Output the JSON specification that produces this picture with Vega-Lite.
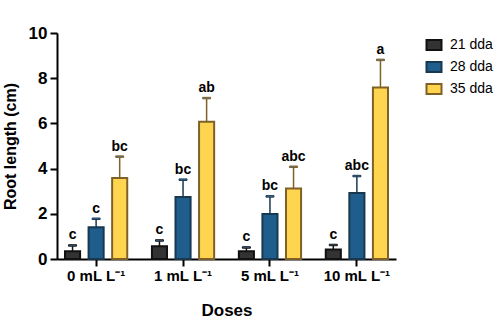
{
  "$schema": "https://vega.github.io/schema/vega-lite/v6.json",
  "width": 339,
  "height": 226,
  "autosize": {"type": "none"},
  "padding": {"left": 57, "top": 33, "right": 107, "bottom": 60},
  "background": "white",
  "config": {
    "view": {"stroke": null},
    "font": "Liberation Sans",
    "legend": {"rowPadding": 4, "symbolSize": 100, "symbolOpacity": 1}
  },
  "data": {
    "values": [
      {"dose": "0 mL L⁻¹", "series": "21 dda", "mean": 0.34, "top": 0.60, "sig": "c"},
      {"dose": "0 mL L⁻¹", "series": "28 dda", "mean": 1.40, "top": 1.78, "sig": "c"},
      {"dose": "0 mL L⁻¹", "series": "35 dda", "mean": 3.58, "top": 4.53, "sig": "bc"},
      {"dose": "1 mL L⁻¹", "series": "21 dda", "mean": 0.56, "top": 0.82, "sig": "c"},
      {"dose": "1 mL L⁻¹", "series": "28 dda", "mean": 2.74, "top": 3.51, "sig": "bc"},
      {"dose": "1 mL L⁻¹", "series": "35 dda", "mean": 6.07, "top": 7.12, "sig": "ab"},
      {"dose": "5 mL L⁻¹", "series": "21 dda", "mean": 0.34, "top": 0.51, "sig": "c"},
      {"dose": "5 mL L⁻¹", "series": "28 dda", "mean": 1.99, "top": 2.77, "sig": "bc"},
      {"dose": "5 mL L⁻¹", "series": "35 dda", "mean": 3.12, "top": 4.08, "sig": "abc"},
      {"dose": "10 mL L⁻¹", "series": "21 dda", "mean": 0.42, "top": 0.62, "sig": "c"},
      {"dose": "10 mL L⁻¹", "series": "28 dda", "mean": 2.92, "top": 3.67, "sig": "abc"},
      {"dose": "10 mL L⁻¹", "series": "35 dda", "mean": 7.59, "top": 8.81, "sig": "a"}
    ]
  },
  "encoding": {
    "x": {
      "field": "dose", "type": "nominal", "sort": null,
      "scale": {"paddingInner": 0.2, "paddingOuter": 0.05},
      "axis": {
        "title": "Doses", "labelAngle": 0, "labelFont": "Liberation Sans",
        "labelFontSize": 15, "labelFontWeight": "bold", "labelColor": "black",
        "labelPadding": 2, "tickSize": 7, "tickWidth": 2, "tickColor": "black",
        "domainColor": "black", "domainWidth": 2,
        "titleFontSize": 17, "titleFontWeight": "bold", "titleColor": "black",
        "titlePadding": 19
      }
    },
    "xOffset": {
      "field": "series", "type": "nominal",
      "scale": {"paddingInner": 0.36, "paddingOuter": 0.155}
    }
  },
  "layer": [
    {
      "mark": {"type": "bar", "strokeWidth": 2, "opacity": 1},
      "encoding": {
        "y": {
          "field": "mean", "type": "quantitative",
          "scale": {"domain": [0, 10], "nice": false},
          "axis": {
            "title": "Root length (cm)", "values": [0, 2, 4, 6, 8, 10], "grid": false,
            "labelFontSize": 17, "labelFontWeight": "bold", "labelColor": "black",
            "labelPadding": 3, "tickSize": 7, "tickWidth": 2, "tickColor": "black",
            "domainColor": "black", "domainWidth": 2,
            "titleFontSize": 16, "titleFontWeight": "bold", "titleColor": "black",
            "titlePadding": 10
          }
        },
        "fill": {
          "field": "series", "type": "nominal", "title": null,
          "scale": {"domain": ["21 dda", "28 dda", "35 dda"], "range": ["#333333", "#1f5d8c", "#ffd54f"]},
          "legend": {
            "orient": "none", "legendX": 370, "legendY": 5,
            "symbolType": "M-1.5,-1L1.5,-1L1.5,1L-1.5,1Z", "symbolSize": 100,
            "symbolStrokeWidth": 2, "symbolOpacity": 1, "labelFontSize": 14, "labelColor": "black",
            "labelOffset": 9, "rowPadding": 4
          }
        },
        "stroke": {
          "field": "series", "type": "nominal", "title": null,
          "scale": {"domain": ["21 dda", "28 dda", "35 dda"], "range": ["#111111", "#183850", "#7f6128"]}
        }
      }
    },
    {
      "mark": {"type": "rule", "strokeWidth": 1.5, "opacity": 1},
      "encoding": {
        "y": {"field": "mean", "type": "quantitative"},
        "y2": {"field": "top"},
        "stroke": {"field": "series", "type": "nominal"}
      }
    },
    {
      "mark": {"type": "tick", "thickness": 1.5, "size": 8, "opacity": 1},
      "encoding": {
        "y": {"field": "top", "type": "quantitative"},
        "stroke": {"field": "series", "type": "nominal"}
      }
    },
    {
      "mark": {"type": "text", "fontSize": 14, "fontWeight": "bold", "dy": -10, "color": "black"},
      "encoding": {
        "y": {"field": "top", "type": "quantitative"},
        "text": {"field": "sig"}
      }
    }
  ]
}
